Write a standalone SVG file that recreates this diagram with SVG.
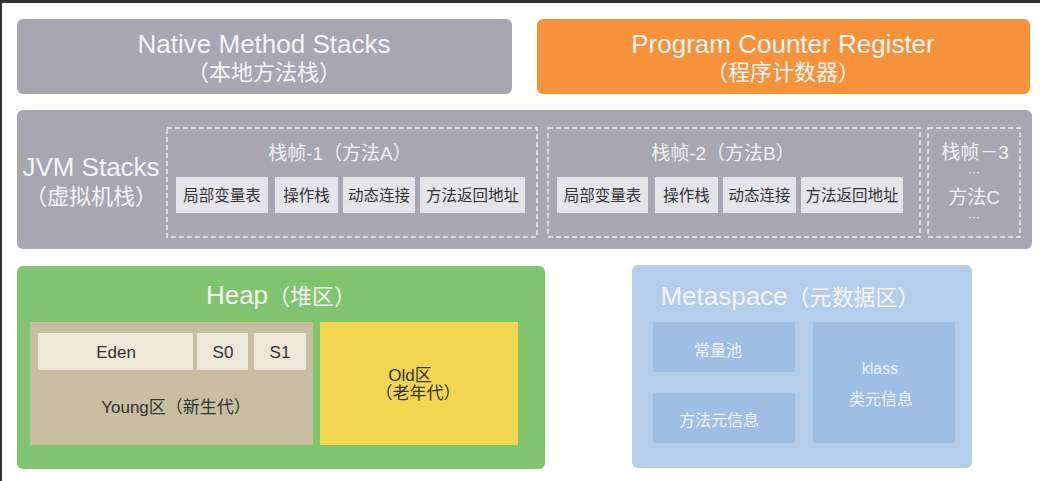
<svg xmlns="http://www.w3.org/2000/svg" width="1040" height="481" viewBox="0 0 1040 481">
<style>
text{font-family:"Liberation Sans","Noto Sans CJK SC",sans-serif;text-anchor:middle}
.big{font-size:26px;fill:#f4f4f6}
.cn{font-size:22px;fill:#f4f4f6}
.mid{font-size:19px;fill:#f0f0f2}
.dots{font-size:12px;fill:#f0f0f2}
.lbl{font-size:15.5px;fill:#333}
.hl{font-size:17px;fill:#333}
.wl{font-size:16px;fill:#eef3fa}
.gray{fill:#a7a6b1}
.frame{fill:none;stroke:#f2f2f4;stroke-width:1.3;stroke-dasharray:5 3}
.cell{fill:#e5e4e9}
.ycell{fill:#ede7d8}
.mcell{fill:#9fbee3}
</style>
<rect x="0" y="0" width="1040" height="481" fill="#ffffff"/>
<rect x="0" y="0" width="1040" height="3" fill="#333333"/>
<rect x="0" y="0" width="2" height="481" fill="#333333"/>

<g id="native">
<rect class="gray" x="17" y="19" width="495" height="75" rx="6"/>
<text class="big" x="264" y="53">Native Method Stacks</text>
<text class="cn" x="264" y="80">（本地方法栈）</text>
</g>

<g id="pc">
<rect x="537" y="19" width="493" height="75" rx="6" fill="#f6933a"/>
<text class="big" x="783" y="53">Program Counter Register</text>
<text class="cn" x="783" y="80">（程序计数器）</text>
</g>

<g id="jvmstacks">
<rect class="gray" x="17" y="110" width="1015" height="139" rx="6"/>
<text class="big" x="91" y="176">JVM Stacks</text>
<text class="cn" x="91" y="204">（虚拟机栈）</text>
</g>

<g id="frame1">
<rect class="frame" x="167" y="128" width="370" height="109"/>
<text class="mid" x="340" y="160">栈帧-1（方法A）</text>
<rect class="cell" x="176" y="177" width="92" height="36"/>
<text class="lbl" x="222" y="201">局部变量表</text>
<rect class="cell" x="275" y="177" width="63" height="36"/>
<text class="lbl" x="306.500" y="201">操作栈</text>
<rect class="cell" x="343" y="177" width="72" height="36"/>
<text class="lbl" x="379" y="201">动态连接</text>
<rect class="cell" x="420" y="177" width="105" height="36"/>
<text class="lbl" x="472.500" y="201">方法返回地址</text>
</g>

<g id="frame2">
<rect class="frame" x="548" y="128" width="372" height="109"/>
<text class="mid" x="723" y="160">栈帧-2（方法B）</text>
<rect class="cell" x="557" y="177" width="91" height="36"/>
<text class="lbl" x="602.500" y="201">局部变量表</text>
<rect class="cell" x="655" y="177" width="63" height="36"/>
<text class="lbl" x="686.500" y="201">操作栈</text>
<rect class="cell" x="723" y="177" width="73" height="36"/>
<text class="lbl" x="759.500" y="201">动态连接</text>
<rect class="cell" x="801" y="177" width="102" height="36"/>
<text class="lbl" x="852" y="201">方法返回地址</text>
</g>

<g id="frame3">
<rect class="frame" x="928" y="128" width="92" height="109"/>
<text class="mid" x="975" y="159">栈帧－3</text>
<text class="dots" x="974" y="176">···</text>
<text class="mid" x="974" y="204">方法C</text>
<text class="dots" x="974" y="221">···</text>
</g>

<g id="heap">
<rect x="17" y="266" width="528" height="203" rx="6" fill="#80c46d"/>
<text x="281" y="304"><tspan class="big">Heap</tspan><tspan class="cn">（堆区）</tspan></text>
</g>

<g id="young">
<rect x="30" y="322" width="283" height="123" fill="#c8bea2"/>
<rect class="ycell" x="38" y="333" width="155" height="37"/>
<text class="hl" x="116" y="358">Eden</text>
<rect class="ycell" x="197" y="333" width="51" height="37"/>
<text class="hl" x="223" y="358">S0</text>
<rect class="ycell" x="254" y="333" width="52" height="37"/>
<text class="hl" x="280" y="358">S1</text>
<text class="hl" x="176" y="413">Young区（新生代）</text>
</g>

<g id="old">
<rect x="320" y="322" width="198" height="123" fill="#f2d64f"/>
<text class="hl" x="410" y="381">Old区</text>
<text class="hl" x="418" y="399">（老年代）</text>
</g>

<g id="metaspace">
<rect x="632" y="265" width="340" height="203" rx="6" fill="#b4cdea"/>
<text x="790" y="305"><tspan class="big">Metaspace</tspan><tspan class="cn">（元数据区）</tspan></text>
<rect class="mcell" x="653" y="322" width="142" height="50"/>
<text class="wl" x="718" y="356">常量池</text>
<rect class="mcell" x="653" y="393" width="142" height="50"/>
<text class="wl" x="719" y="426">方法元信息</text>
<rect class="mcell" x="813" y="322" width="142" height="121"/>
<text class="wl" x="880" y="374">klass</text>
<text class="wl" x="881" y="405">类元信息</text>
</g>

<g id="connectors"></g>
</svg>
